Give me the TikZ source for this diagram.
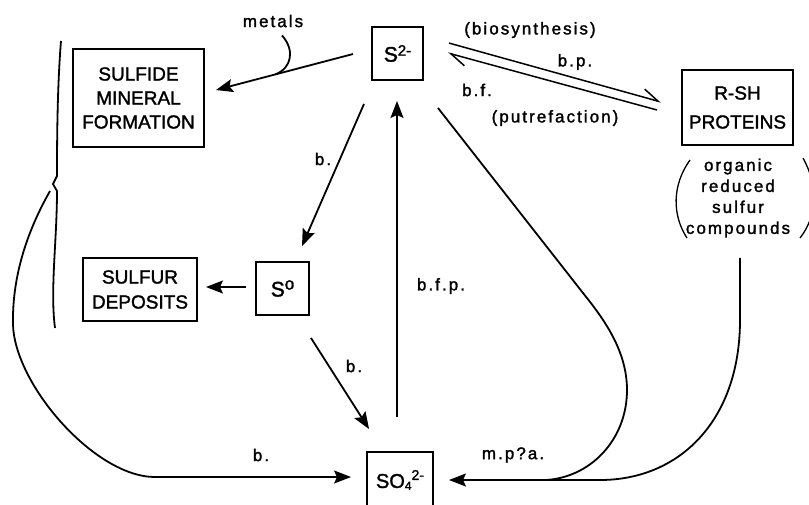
\documentclass[tikz,border=0pt]{standalone}
\usepackage{fontspec}
\setmainfont{Liberation Sans}[FakeBold=1.6]
\usetikzlibrary{arrows.meta,calc}

\begin{document}
\begin{tikzpicture}[x=1pt,y=-1pt,
  box/.style={draw, line width=1.9pt, inner sep=0pt, align=center},
  capfont/.style={font=\fontsize{19}{24}\selectfont},
  wire/.style={line width=1.8pt},
  arr/.style={line width=1.8pt, -{Stealth[length=17pt,width=13pt,inset=3pt]}},
  harp/.style={line width=1.5pt, -{Straight Barb[harpoon,length=16pt,width=16pt,line width=1.5pt]}},
  lbl/.style={inner sep=0pt, font=\fontsize{17}{21}\selectfont\addfontfeature{LetterSpace=12}},
  thin/.style={line width=1.3pt},
]
\fill[white] (0,0) rectangle (809,504);
\useasboundingbox (0,0) rectangle (809,504);
\begin{scope}
\clip (0,0) rectangle (809,504);

% boxes
\node[box, capfont, minimum width=131pt, minimum height=98pt] (sulfide) at (138.5,98) {SULFIDE\\MINERAL\\FORMATION};
\node[box, font=\fontsize{19}{25}\selectfont, minimum width=114pt, minimum height=63pt] (deposits) at (140,289.5) {SULFUR\\DEPOSITS};
\node[box, minimum width=51pt, minimum height=53pt] (s2) at (397.5,53.5)
  {\fontsize{21}{21}\selectfont S\raisebox{6pt}{\fontsize{15}{15}\selectfont 2-}};
\node[box, minimum width=53pt, minimum height=53pt] (s0) at (282.5,288.5)
  {\fontsize{21}{21}\selectfont S\raisebox{7pt}{\fontsize{17}{17}\selectfont o}};
\node[box, minimum width=66pt, minimum height=56pt] (so4) at (400,480)
  {\fontsize{20}{20}\selectfont SO\raisebox{-2pt}{\fontsize{12}{12}\selectfont 4}\raisebox{8pt}{\fontsize{14}{14}\selectfont 2-}};
\node[box, font=\fontsize{19}{29}\selectfont, minimum width=111pt, minimum height=75pt] (rsh) at (737.5,107.5) {R-SH\\PROTEINS};

% text under the protein box and its parentheses
\node[lbl, align=center] (orsc) at (738,198) {organic\\reduced\\sulfur\\compounds};
\draw[thin] (690,160) .. controls (672,185) and (672,215) .. (687,238);
\draw[thin] (803,158) .. controls (818,185) and (818,215) .. (800,238);

% brace on the left
\draw[wire] (61,41) .. controls (57,90) and (57,150) .. (57,176) -- (53,184) coordinate (bt) -- (57,191)
  .. controls (57,240) and (50,290) .. (55,328);

% sulfide precipitation with metals
\draw[arr] ($(s2.west)+(-18,0.5)$) -- coordinate[pos=0.568] (mj) ($(sulfide.east)+(11,-8)$);
\node[lbl] (metals) at (273,21) {metals};
\draw[wire] ($(metals.south)+(9,8)$) .. controls (295,50) and (292,68) .. (mj);

% S2- <-> R-SH
\draw[harp] ($(s2.north east)+(25,17)$) -- ($(rsh.west)+(-20,-5.5)$);
\draw[harp] ($(rsh.west)+(-24,2.5)$) -- ($(s2.east)+(24,-0.5)$);
\node[lbl] (bio) at (530,30) {(biosynthesis)};
\node[lbl] (bp) at (575,62) {b.p.};
\node[lbl] (bf) at (477,90) {b.f.};
\node[lbl] (putr) at (555,118) {(putrefaction)};

% S2- -> S0
\draw[arr] ($(s2.south)+(-33.5,23)$) -- ($(s0.north)+(19.5,-15)$);
\node[lbl] at (323,159) {b.};

% S0 -> deposits
\draw[arr] ($(s0.west)+(-9,-1.5)$) -- ($(deposits.east)+(8,-2.5)$);

% S0 -> SO4
\draw[arr] ($(s0.south east)+(1,22)$) -- ($(so4.north west)+(3,-22)$);
\node[lbl] at (354,366) {b.};

% SO4 -> S2-
\draw[arr] ($(so4.north)+(-3,-34)$) -- ($(s2.south)+(-0.5,20)$);
\node[lbl] at (441,286) {b.f.p.};

% minerals and deposits -> SO4
\draw[arr] ($(bt)+(-3,7)$) .. controls (25,235) and (12,280) .. (13,325)
  .. controls (15,385) and (95,477) .. (155,477) -- ($(so4.west)+(-15,-3)$);
\node[lbl] at (261,455) {b.};

% S2- and organic sulfur -> SO4
\draw[wire] ($(s2.south east)+(14,27)$) -- (583,293) .. controls (603,318) and (627,350) .. (627,390)
  .. controls (627,440) and (590,478) .. (545,480);
\draw[arr] ($(rsh.south)+(2.5,112)$) -- (740,320) .. controls (740,420) and (680,480) .. (600,480)
  -- ($(so4.east)+(15,0)$);
\node[lbl] at (513,455) {m.p?a.};
\end{scope}
\end{tikzpicture}
\end{document}
